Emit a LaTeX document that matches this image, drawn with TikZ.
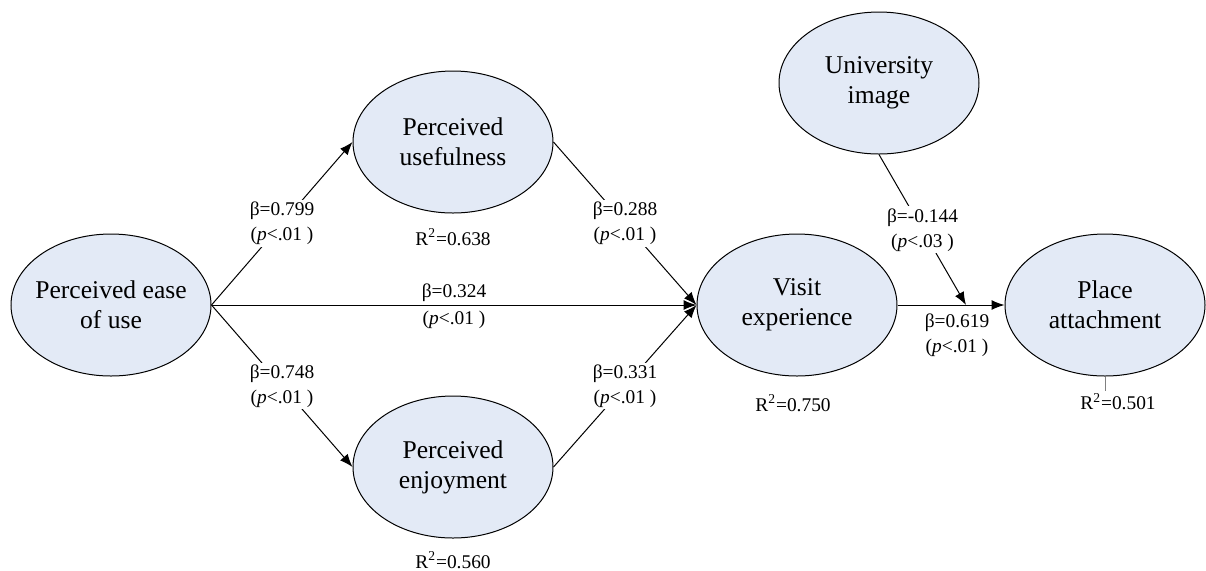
\documentclass[tikz,border=0pt]{standalone}
\usepackage{fontspec}
\setmainfont{Liberation Serif}
\usetikzlibrary{shapes.geometric,arrows.meta}
\definecolor{latentfill}{RGB}{227,234,246}
\tikzset{
  latent/.style={ellipse, draw, fill=latentfill, minimum width=100pt, minimum height=71pt,
    inner sep=0pt, align=center, font=\fontsize{12.8}{15}\selectfont},
  coef/.style={font=\fontsize{9.7}{12.5}\selectfont, align=center, fill=white, inner sep=1pt},
  rsq/.style={font=\fontsize{9.7}{12}\selectfont, inner sep=1pt},
}
\begin{document}
\begin{tikzpicture}[>={Latex[length=6.5pt,width=5pt]}, x=0.5pt, y=-0.5pt, line width=0.5pt]
    \useasboundingbox (0,0) rectangle (1206,570);

    % Latent constructs
    \node[latent, inner xsep=-3pt] (peou) at (111,305) {Perceived ease\\of use};
    \node[latent] (pu) at (453,142) {Perceived\\usefulness};
    \node[latent] (pe) at (453,467) {Perceived\\enjoyment};
    \node[latent] (ve) at (797,305) {Visit\\experience};
    \node[latent] (ui) at (879,83) {University\\image};
    \node[latent] (pa) at (1105,305) {Place\\attachment};
    \coordinate (mod) at (966,305); % moderation point

    % Explained variance
    \node[rsq] (r2pu) at (453,237) {R\textsuperscript{2}=0.638};
    \node[rsq] (r2pe) at (453,560) {R\textsuperscript{2}=0.560};
    \node[rsq] (r2ve) at (793,403) {R\textsuperscript{2}=0.750};
    \node[rsq] (r2pa) at (1118,402) {R\textsuperscript{2}=0.501};
    \draw[gray] (pa.south) -- (pa.south |- r2pa.north);

    % Paths with coefficients
    \draw[->] (peou.east) -- (pu.west) node[midway, coef] {β=0.799\\(\textit{p}<.01 )};
    \draw[->] (peou.east) -- (pe.west) node[midway, coef] {β=0.748\\(\textit{p}<.01 )};
    \draw[->] (peou.east) -- (ve.west)
        node[midway, coef, fill=none, yshift=6pt] {β=0.324}
        node[midway, coef, fill=none, yshift=-7.5pt] {(\textit{p}<.01 )};
    \draw[->] (pu.east) -- (ve.west) node[midway, coef] {β=0.288\\(\textit{p}<.01 )};
    \draw[->] (pe.east) -- (ve.west) node[midway, coef] {β=0.331\\(\textit{p}<.01 )};
    \draw[->] (ve.east) -- (pa.west) node[midway, coef, fill=none, xshift=3pt, yshift=-15pt] {β=0.619\\(\textit{p}<.01 )};
    \draw[->] (ui.south) -- (mod) node[midway, coef] {β=-0.144\\(\textit{p}<.03 )};
\end{tikzpicture}
\end{document}
